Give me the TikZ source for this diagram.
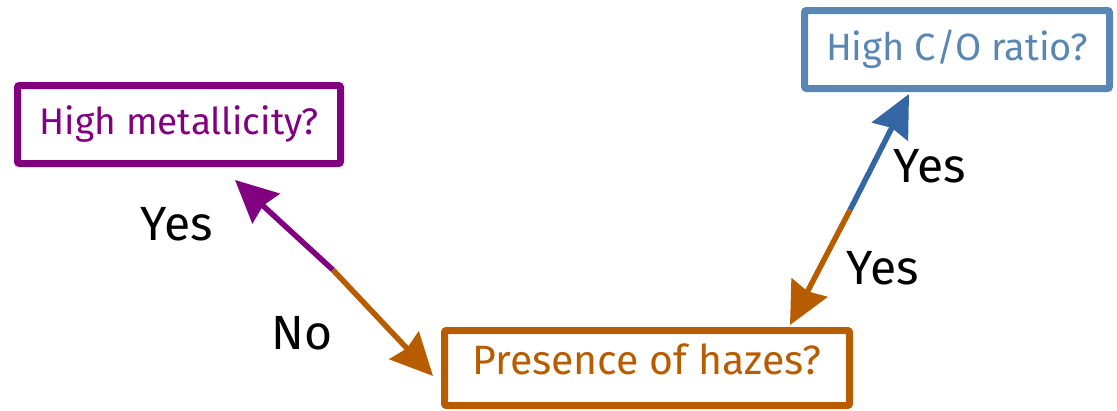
\documentclass[tikz,border=0pt]{standalone}
\usepackage{fontspec}
\setmainfont{Fira Sans}
\usetikzlibrary{arrows.meta}
\definecolor{cpurple}{HTML}{800080}
\definecolor{corange}{HTML}{B85C00}
\definecolor{cbluebox}{HTML}{5A86B4}
\definecolor{cbluearr}{HTML}{3465A4}
\tikzset{
  qbox/.style={draw, line width=7pt, rounded corners=2pt, minimum height=78pt, inner sep=0pt, font=\fontsize{37}{40}\selectfont},
  conn/.style={line width=5.5pt, -{Stealth[length=42pt,width=40pt,inset=4pt]}},
  lbl/.style={font=\fontsize{48}{50}\selectfont, text=black, inner sep=0pt}
}
\begin{document}
\begin{tikzpicture}[x=1pt,y=-1pt]
\useasboundingbox (0,0) rectangle (1117,410);
\node[qbox, cpurple, minimum width=323pt] (hm) at (179,124.5) {High metallicity?};
\node[qbox, cbluebox, minimum width=305pt, font=\fontsize{38}{40}\selectfont] (co) at (957,49.5) {High C/O ratio?};
\node[qbox, corange, minimum width=405pt, minimum height=75pt, text depth=17pt, font=\fontsize{41}{44}\selectfont] (ph) at (647,368) {Presence of hazes?};
% left connector
\coordinate (lm) at (333,270);
\coordinate (lt) at ([xshift=56pt,yshift=-13pt]hm.south);
\coordinate (lb) at ([xshift=-8pt,yshift=-8pt]ph.west);
\draw[conn, cpurple] (lm) -- (lt);
\draw[conn, corange] (lm) -- (lb);
% right connector
\coordinate (rm) at (850,210);
\coordinate (rt) at ([xshift=-48pt,yshift=-2pt]co.south);
\coordinate (rb) at ([xshift=143pt,yshift=2pt]ph.north);
\draw[conn, cbluearr] (rm) -- (rt);
\draw[conn, corange] (rm) -- (rb);
% labels
\node[lbl] (l1) at (177,224) {Yes};
\node[lbl] (l2) at (302,333) {No};
\node[lbl] (l3) at (930,166) {Yes};
\node[lbl] (l4) at (883,268) {Yes};
\end{tikzpicture}
\end{document}
